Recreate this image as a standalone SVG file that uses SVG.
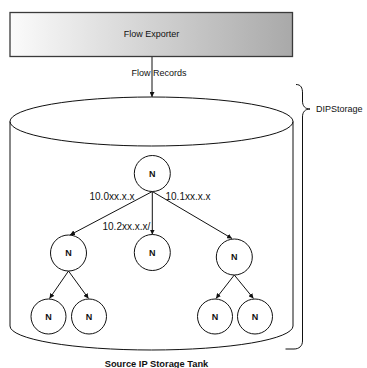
<svg xmlns="http://www.w3.org/2000/svg" width="367" height="368" viewBox="0 0 367 368">
  <style>
    .lbl { font-family: "Liberation Sans", Arial, sans-serif; fill: #111; }
    .node circle { fill: #fff; stroke: #111; stroke-width: 1; }
    .node text { font-family: "Liberation Sans", Arial, sans-serif; font-weight: bold; font-size: 9px; fill: #111; text-anchor: middle; }
    .edge { stroke: #111; stroke-width: 1; fill: none; marker-end: url(#arrow); }
    .outline { stroke: #111; stroke-width: 1; fill: none; }
  </style>
  <defs>
    <linearGradient id="exporterFill" x1="0" y1="0" x2="1" y2="0">
      <stop offset="0" stop-color="#fbfbfb"/>
      <stop offset="1" stop-color="#a9a9a9"/>
    </linearGradient>
    <marker id="arrow" viewBox="0 0 10 10" refX="10" refY="5" markerWidth="5" markerHeight="5" orient="auto" markerUnits="userSpaceOnUse">
      <path d="M0,0 L10,5 L0,10 z" fill="#111"/>
    </marker>
  </defs>

  <!-- exporter box -->
  <g id="flow-exporter">
    <rect x="10" y="12.5" width="282.5" height="44" fill="url(#exporterFill)" stroke="#3a3a3a" stroke-width="1.3"/>
    <text class="lbl" x="151.5" y="36.5" font-size="9" text-anchor="middle">Flow Exporter</text>
  </g>

  <!-- storage tank cylinder -->
  <g id="storage-tank">
    <ellipse class="outline" cx="151.5" cy="121.5" rx="141.5" ry="24.5"/>
    <path class="outline" d="M10,121.5 L10,326 A141.5,24 0 0 0 293,326 L293,121.5"/>
    <text class="lbl" x="156.5" y="366.5" font-size="9.3" font-weight="bold" text-anchor="middle">Source IP Storage Tank</text>
  </g>

  <!-- brace around the tank -->
  <g id="dip-storage">
    <path class="outline" d="M296,84.5 C301,84.5 302.5,88 302.5,93 L302.5,101 C302.5,106 305,109 310,109 C305,109 302.5,112 302.5,117 L302.5,341 C302.5,346 299,349 294,349 L285.5,349"/>
    <text class="lbl" x="316" y="112" font-size="9">DIPStorage</text>
  </g>

  <!-- connectors -->
  <g id="connectors">
    <line class="edge" x1="152" y1="57" x2="152" y2="97"/>
    <text class="lbl" x="131.5" y="76" font-size="9">Flow Records</text>

    <line class="edge" x1="152.3" y1="191.5" x2="70" y2="235"/>
    <line class="edge" x1="152.3" y1="191.5" x2="152.3" y2="234.5"/>
    <line class="edge" x1="152.3" y1="191.5" x2="232" y2="238.5"/>
    <text class="lbl" x="89.5" y="200" font-size="10">10.0xx.x.x</text>
    <text class="lbl" x="165.5" y="200" font-size="10">10.1xx.x.x</text>
    <text class="lbl" x="102.5" y="230" font-size="10">10.2xx.x.x/</text>

    <line class="edge" x1="68.5" y1="271" x2="49.5" y2="298.5"/>
    <line class="edge" x1="68.5" y1="271" x2="88.5" y2="298.5"/>
    <line class="edge" x1="234.3" y1="275" x2="216" y2="298.5"/>
    <line class="edge" x1="234.3" y1="275" x2="253.5" y2="298.5"/>
  </g>

  <!-- tree nodes -->
  <g id="root" class="node"><circle cx="152.3" cy="173.5" r="18"/><text x="152.3" y="176.8">N</text></g>
  <g id="child-0" class="node"><circle cx="68.5" cy="253" r="18"/><text x="68.5" y="256.3">N</text></g>
  <g id="child-2" class="node"><circle cx="152.3" cy="252.5" r="18"/><text x="152.3" y="255.8">N</text></g>
  <g id="child-1" class="node"><circle cx="234.3" cy="257" r="18"/><text x="234.3" y="260.3">N</text></g>
  <g id="leaf-00" class="node"><circle cx="48.5" cy="316.5" r="17.5"/><text x="48.5" y="319.8">N</text></g>
  <g id="leaf-01" class="node"><circle cx="89" cy="316.5" r="17.5"/><text x="89" y="319.8">N</text></g>
  <g id="leaf-10" class="node"><circle cx="215" cy="316.5" r="17.5"/><text x="215" y="319.8">N</text></g>
  <g id="leaf-11" class="node"><circle cx="255" cy="316.5" r="17.5"/><text x="255" y="319.8">N</text></g>
</svg>
